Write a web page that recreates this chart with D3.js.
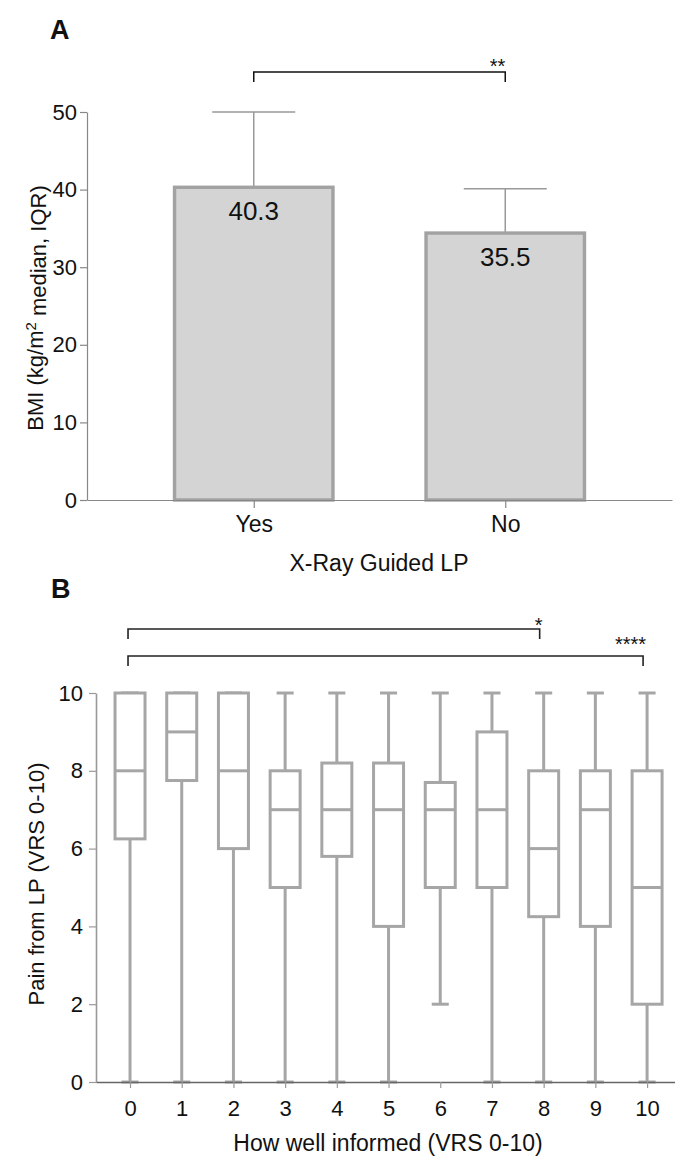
<!DOCTYPE html>
<html>
<head>
<meta charset="utf-8">
<script src="https://cdn.jsdelivr.net/npm/d3@7"></script>
<style>
  html, body { margin: 0; padding: 0; background: #fff; }
  svg { display: block; }
  text { font-family: "Liberation Sans", Arial, Helvetica, sans-serif; fill: #111; }
</style>
</head>
<body>
<svg id="chart" width="675" height="1159"></svg>
<script>
// ---------- Panel A data ----------
const groupsA = ["Yes", "No"];
const bmiBarHeight = [40.3, 34.4];        // drawn bar top (median)
const bmiLabel = ["40.3", "35.5"];        // printed median labels
const bmiUpper = [50.0, 40.1];            // upper IQR whisker
const ticksA = [0, 10, 20, 30, 40, 50];
const sigA = "**";

// ---------- Panel B data ----------
const informed = [0, 1, 2, 3, 4, 5, 6, 7, 8, 9, 10];
const painMin    = [0,    0,    0, 0, 0,   0,   2,   0, 0,    0, 0];
const painQ1     = [6.25, 7.75, 6, 5, 5.8, 4,   5,   5, 4.25, 4, 2];
const painMedian = [8,    9,    8, 7, 7,   7,   7,   7, 6,    7, 5];
const painQ3     = [10,   10,  10, 8, 8.2, 8.2, 7.7, 9, 8,    8, 8];
const painMax    = [10,   10,  10, 10, 10, 10,  10,  10, 10,  10, 10];
const ticksB = [0, 2, 4, 6, 8, 10];
const sigB = [
  { from: 0, to: 8,  label: "*" },
  { from: 0, to: 10, label: "****" }
];

const svg = d3.select("#chart");
const FONT = '"Liberation Sans", Arial, Helvetica, sans-serif';

// ================= PANEL A =================
const xA = d3.scalePoint().domain(groupsA).range([87, 672]).padding(0.663);
const yA = d3.scaleLinear().domain([0, 50]).range([500, 112]);
const stepA = xA.step();
const barW = stepA * 0.63;
const capWA = stepA * 0.33;

svg.append("text").attr("x", 50).attr("y", 39)
  .style("font-size", "27px").style("font-weight", "bold").text("A");

const gA = svg.append("g");
groupsA.forEach((g, i) => {
  const cx = xA(g);
  gA.append("line").attr("x1", cx).attr("x2", cx)
    .attr("y1", yA(bmiBarHeight[i])).attr("y2", yA(bmiUpper[i]))
    .attr("stroke", "#999").attr("stroke-width", 1.5);
  gA.append("line").attr("x1", cx - capWA / 2).attr("x2", cx + capWA / 2)
    .attr("y1", yA(bmiUpper[i])).attr("y2", yA(bmiUpper[i]))
    .attr("stroke", "#999").attr("stroke-width", 1.5);
  gA.append("rect")
    .attr("x", cx - barW / 2).attr("y", yA(bmiBarHeight[i]))
    .attr("width", barW).attr("height", yA(0) - yA(bmiBarHeight[i]))
    .attr("fill", "#d4d4d4").attr("stroke", "#a2a2a2").attr("stroke-width", 3.4);
  gA.append("text").attr("x", cx).attr("y", yA(bmiBarHeight[i]) + 33)
    .attr("text-anchor", "middle").style("font-size", "26px").text(bmiLabel[i]);
});

const axA_y = svg.append("g").attr("transform", "translate(87,0)")
  .call(d3.axisLeft(yA).tickValues(ticksA).tickSize(7).tickPadding(3).tickSizeOuter(0));
const axA_x = svg.append("g").attr("transform", "translate(0,500)")
  .call(d3.axisBottom(xA).tickSize(8).tickPadding(8).tickSizeOuter(0));
[axA_y, axA_x].forEach(ax => {
  ax.select(".domain").attr("stroke", "#888").attr("stroke-width", 1.2);
  ax.selectAll(".tick line").attr("stroke", "#888").attr("stroke-width", 1.2);
  ax.selectAll(".tick text").style("font-size", "22px").style("font-family", FONT).attr("fill", "#111");
});
axA_x.selectAll(".tick text").style("font-size", "23px");

svg.append("text")
  .attr("transform", "translate(43,308) rotate(-90)")
  .attr("text-anchor", "middle").style("font-size", "22px")
  .call(t => {
    t.append("tspan").text("BMI (kg/m");
    t.append("tspan").attr("dy", "-0.45em").style("font-size", "15px").text("2");
    t.append("tspan").attr("dy", "0.45em").text(" median, IQR)");
  });
svg.append("text").attr("x", 379).attr("y", 571)
  .attr("text-anchor", "middle").style("font-size", "23px").text("X-Ray Guided LP");

const bA = 72, dA = 10;
svg.append("path")
  .attr("d", `M${xA("Yes")},${bA + dA}V${bA}H${xA("No")}V${bA + dA}`)
  .attr("fill", "none").attr("stroke", "#111").attr("stroke-width", 1.5);
svg.append("text").attr("x", xA("No")).attr("y", bA + 1)
  .attr("text-anchor", "end").style("font-size", "20px").text(sigA);

// ================= PANEL B =================
const xB = d3.scaleLinear().domain([-0.658, 10.54]).range([96, 675]);
const yB = d3.scaleLinear().domain([0, 10]).range([1082, 693]);
const stepB = xB(1) - xB(0);
const boxW = stepB * 0.58;
const capWB = stepB * 0.33;

svg.append("text").attr("x", 51).attr("y", 598)
  .style("font-size", "27px").style("font-weight", "bold").text("B");

const gB = svg.append("g");
const boxColor = "#a6a6a6";
informed.forEach((c, i) => {
  const cx = xB(c);
  gB.append("line").attr("x1", cx).attr("x2", cx)
    .attr("y1", yB(painQ3[i])).attr("y2", yB(painMax[i]))
    .attr("stroke", boxColor).attr("stroke-width", 3);
  gB.append("line").attr("x1", cx).attr("x2", cx)
    .attr("y1", yB(painQ1[i])).attr("y2", yB(painMin[i]))
    .attr("stroke", boxColor).attr("stroke-width", 3);
  [painMax[i], painMin[i]].forEach(v => {
    gB.append("line").attr("x1", cx - capWB / 2).attr("x2", cx + capWB / 2)
      .attr("y1", yB(v)).attr("y2", yB(v))
      .attr("stroke", boxColor).attr("stroke-width", 3);
  });
  gB.append("rect")
    .attr("x", cx - boxW / 2).attr("y", yB(painQ3[i]))
    .attr("width", boxW).attr("height", yB(painQ1[i]) - yB(painQ3[i]))
    .attr("fill", "#fff").attr("stroke", boxColor).attr("stroke-width", 3);
  gB.append("line").attr("x1", cx - boxW / 2).attr("x2", cx + boxW / 2)
    .attr("y1", yB(painMedian[i])).attr("y2", yB(painMedian[i]))
    .attr("stroke", boxColor).attr("stroke-width", 3);
});

const axB_y = svg.append("g").attr("transform", "translate(96,0)")
  .call(d3.axisLeft(yB).tickValues(ticksB).tickSize(7).tickPadding(6).tickSizeOuter(0));
const axB_x = svg.append("g").attr("transform", "translate(0,1082)")
  .call(d3.axisBottom(xB).tickValues(informed).tickFormat(d3.format("d"))
        .tickSize(6).tickPadding(12).tickSizeOuter(0));
[axB_y, axB_x].forEach(ax => {
  ax.select(".domain").attr("stroke", "#999").attr("stroke-width", 1.6);
  ax.selectAll(".tick line").attr("stroke", "#999").attr("stroke-width", 1.2);
  ax.selectAll(".tick text").style("font-size", "22px").style("font-family", FONT).attr("fill", "#111");
});
axB_x.select(".domain").attr("stroke", "#666");

svg.append("text")
  .attr("transform", "translate(44,884) rotate(-90)")
  .attr("text-anchor", "middle").style("font-size", "22px")
  .text("Pain from LP (VRS 0-10)");
svg.append("text").attr("x", 388).attr("y", 1151)
  .attr("text-anchor", "middle").style("font-size", "23px")
  .text("How well informed (VRS 0-10)");

const bracketY = [629, 656];
const labelY = [632, 651];
sigB.forEach((s, k) => {
  const y = bracketY[k];
  svg.append("path")
    .attr("d", `M${xB(s.from) - 2},${y + 10}V${y}H${xB(s.to) - 4}V${y + 10}`)
    .attr("fill", "none").attr("stroke", "#222").attr("stroke-width", 1.6);
  svg.append("text").attr("x", xB(s.to) - 1).attr("y", labelY[k])
    .attr("text-anchor", "end").style("font-size", "20px").text(s.label);
});
</script>
</body>
</html>
